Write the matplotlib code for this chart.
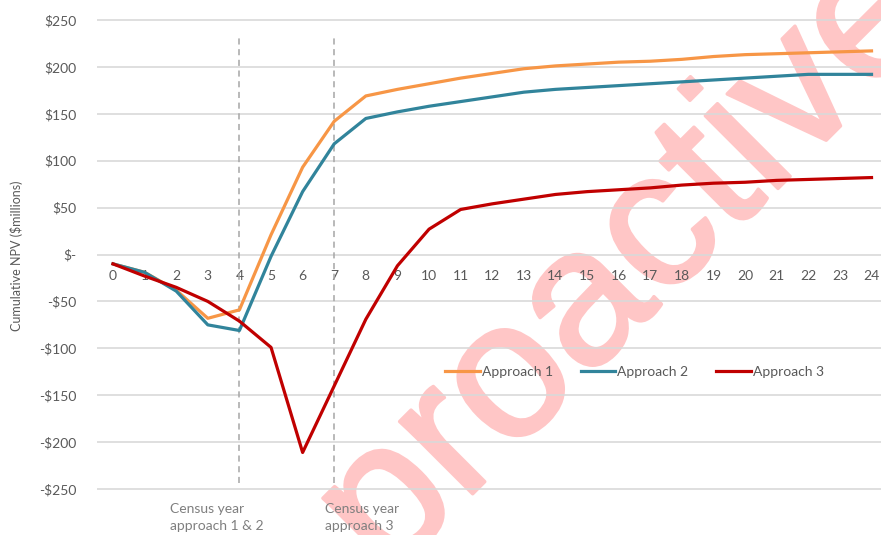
import matplotlib.pyplot as plt
import matplotlib.patheffects as pe
from matplotlib.ticker import FixedLocator

plt.rcParams['font.family'] = ['Lato', 'DejaVu Sans']

# cumulative NPV per year, $ millions
years = list(range(25))
approach_1 = [-10, -19, -38, -68, -59, 21, 93, 142, 169, 176, 182, 188, 193,
              198, 201, 203, 205, 206, 208, 211, 213, 214, 215, 216, 217]
approach_2 = [-10, -19, -39, -75, -81, -2, 67, 118, 145, 152, 158, 163, 168,
              173, 176, 178, 180, 182, 184, 186, 188, 190, 192, 192, 192]
approach_3 = [-10, -23, -35, -50, -71, -99, -211, -140, -69, -12, 27, 48, 54,
              59, 64, 67, 69, 71, 74, 76, 77, 79, 80, 81, 82]

y_ticks = [250, 200, 150, 100, 50, 0, -50, -100, -150, -200, -250]
y_labels = ['$250', '$200', '$150', '$100', '$50', '$-', '-$50', '-$100',
            '-$150', '-$200', '-$250']
census_years = [4, 7]
census_notes = ['Census year\napproach 1 & 2', 'Census year\napproach 3']

fig = plt.figure(figsize=(8.81, 5.35), dpi=100)
ax = fig.add_axes([97.2 / 881, 45 / 535, 1 - 97.2 / 881, 471 / 535])

ax.plot(years, approach_1, color='#F79646', lw=2.3, label='Approach 1', zorder=3)
ax.plot(years, approach_2, color='#31849B', lw=2.3, label='Approach 2', zorder=3)
ax.plot(years, approach_3, color='#C00000', lw=2.3, label='Approach 3', zorder=3)

for yr, note in zip(census_years, census_notes):
    ax.plot([yr, yr], [-244, 231], color='#A6A6A6', lw=1.1, ls=(0, (4, 3)), zorder=2)
    ax.text(yr - 2.2 if yr == 4 else yr - 0.3, -265, note, ha='left', va='top',
            fontsize=10, color='#7F7F7F', linespacing=1.45, clip_on=False, zorder=4)

ax.set_xlim(-0.5, 24.3)
ax.set_ylim(-251, 251)
ax.yaxis.set_major_locator(FixedLocator(y_ticks))
ax.set_yticklabels(y_labels)
ax.set_xticks(years)
ax.grid(axis='y', color='#D9D9D9', lw=1.2)
ax.set_axisbelow(True)
for s in ax.spines.values():
    s.set_visible(False)
ax.spines['bottom'].set_position(('data', 0))
ax.tick_params(axis='both', length=0, labelsize=10, labelcolor='#595959')
ax.tick_params(axis='x', pad=11)
ax.tick_params(axis='y', pad=15)

fig.text(17 / 881, 1 - 256 / 535, 'Cumulative NPV ($millions)', rotation=90,
         ha='center', va='center', fontsize=9, color='#595959')

ax.legend(loc='center', bbox_to_anchor=(16.5, -125), bbox_transform=ax.transData,
          ncol=3, frameon=False, fontsize=10, handlelength=2.5, handletextpad=0.15,
          columnspacing=2.0, labelcolor='#595959')

# watermark, under the grid and lines
pink = '#FFC6C6'
ax.text(630 / 881, 1 - 265 / 535, 'proactive', rotation=45, ha='center', va='center',
        fontsize=140, color=pink, family='Liberation Sans', transform=fig.transFigure,
        clip_on=False, zorder=0.3,
        path_effects=[pe.withStroke(linewidth=2.5, foreground=pink)])

fig.savefig('out.png', dpi=100)
